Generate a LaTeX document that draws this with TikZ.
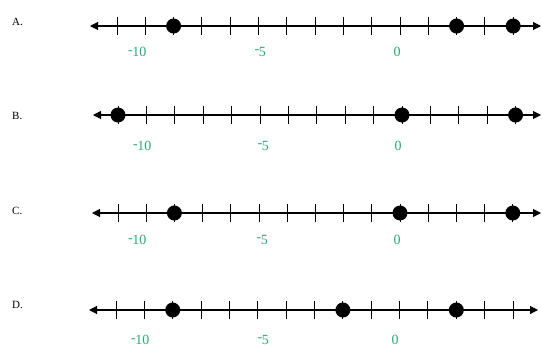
\documentclass[tikz,border=0pt]{standalone}
\usepackage{fontspec}
\setmainfont{Liberation Serif}
\usetikzlibrary{arrows.meta}
\definecolor{lblgreen}{RGB}{40,170,115}
\newcommand\negsgn{\raisebox{.4ex}{\kern.5pt-\kern-.5pt}}
\tikzset{
  numline/.style={line width=1.1pt, {Triangle[length=8pt,width=8pt]}-{Triangle[length=8pt,width=8pt]}},
  tickmark/.style={line width=1pt},
  ptdot/.style={circle, fill=black, inner sep=0pt, minimum width=14pt, minimum height=15pt},
  numlbl/.style={text=lblgreen, font=\fontsize{14}{14}\selectfont, inner sep=0pt},
  optlbl/.style={font=\fontsize{11}{11}\selectfont, inner sep=0pt, anchor=west}
}
\begin{document}
\begin{tikzpicture}[x=1pt,y=-1pt]
\useasboundingbox (0,0) rectangle (542,348);
% #1 name, #2 y, #3 x(-10), #4 spacing, #5 left end, #6 right end
\newcommand\nline[6]{%
  \coordinate (#1L) at (#5,#2);
  \coordinate (#1R) at (#6,#2);
  \draw[numline] (#1L) -- (#1R);
  \foreach \k in {0,...,14}{
    \draw[tickmark] ({#3+\k*#4},#2-9) -- ({#3+\k*#4},#2+9);
  }
}
\newcommand\ndots[5]{% name, y, x(-10), spacing, list
  \foreach \k [count=\i] in {#5}{
    \node[ptdot] (#1d\i) at ({#3+(\k+10)*#4},#2) {};
  }
}
% A
\node[optlbl] (labA) at (12,22) {A.};
\nline{A}{26}{117}{28.3}{90}{541}
\ndots{A}{26}{117}{28.3}{-8,2,4}
\node[numlbl] (A10) at (137,52) {\negsgn10};
\node[numlbl] (A5) at (260,52) {\negsgn5};
\node[numlbl] (A0) at (397,52) {0};
% B
\node[optlbl] (labB) at (12,116) {B.};
\nline{B}{115}{118}{28.4}{93}{541}
\ndots{B}{115}{118}{28.4}{-10,0,4}
\node[numlbl] (B10) at (142,146) {\negsgn10};
\node[numlbl] (B5) at (263,146) {\negsgn5};
\node[numlbl] (B0) at (398,146) {0};
% C
\node[optlbl] (labC) at (12,211) {C.};
\nline{C}{213}{118}{28.2}{92}{541}
\ndots{C}{213}{118}{28.2}{-8,0,4}
\node[numlbl] (C10) at (137,240) {\negsgn10};
\node[numlbl] (C5) at (262,240) {\negsgn5};
\node[numlbl] (C0) at (397,240) {0};
% D
\node[optlbl] (labD) at (12,305) {D.};
\nline{D}{310}{116}{28.36}{89}{538}
\ndots{D}{310}{116}{28.36}{-8,-2,2}
\node[numlbl] (D10) at (140,340) {\negsgn10};
\node[numlbl] (D5) at (263,340) {\negsgn5};
\node[numlbl] (D0) at (395,340) {0};
\end{tikzpicture}
\end{document}
